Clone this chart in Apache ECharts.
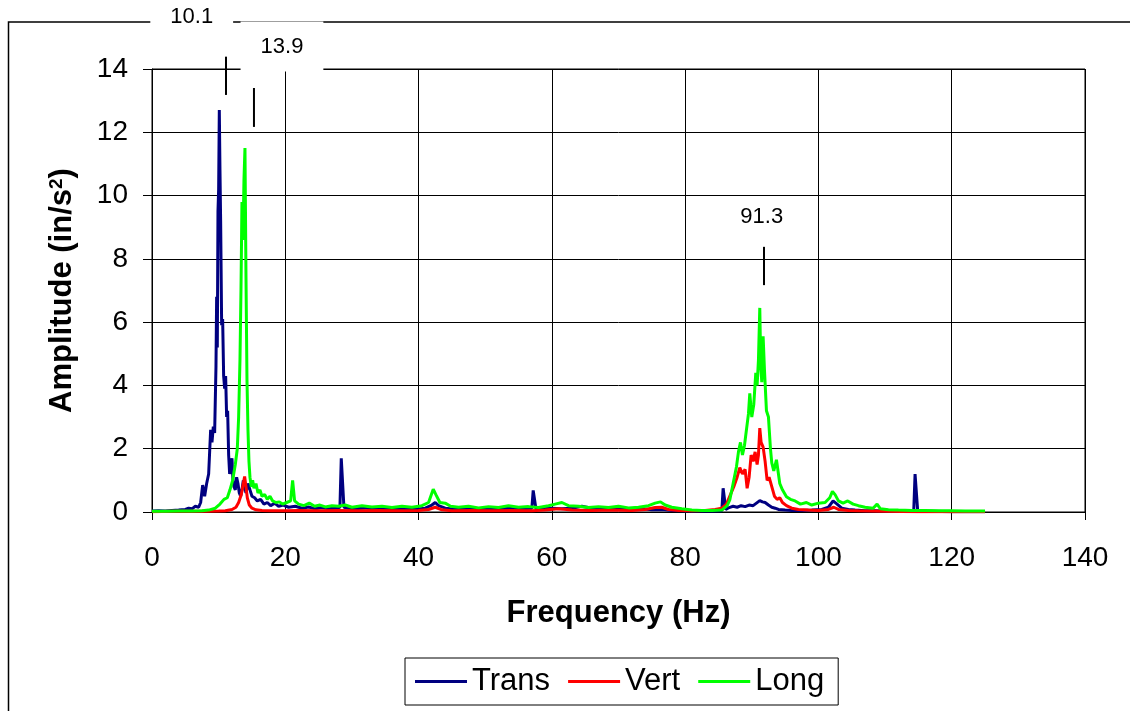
<!DOCTYPE html>
<html>
<head>
<meta charset="utf-8">
<title>Amplitude spectrum</title>
<script src="https://cdn.jsdelivr.net/npm/echarts@6/dist/echarts.min.js"></script>
<style>
  html, body { margin: 0; padding: 0; background: #fff; }
  #chart { width: 1130px; height: 711px; }
</style>
</head>
<body>
<div id="chart"></div>
<script>
// spectrum values: [frequency Hz, amplitude in/s^2]
const trans = [
  [0, 0.03], [1, 0.04], [2, 0.03], [3, 0.05], [4, 0.06], [5, 0.08], [5.5, 0.12], [6, 0.1], [6.5, 0.18], [7, 0.15],
  [7.3, 0.3], [7.6, 0.85], [7.9, 0.5], [8.2, 0.9], [8.5, 1.2], [8.8, 2.6], [9.0, 2.2], [9.2, 2.7], [9.4, 2.5],
  [9.6, 4.6], [9.7, 6.8], [9.8, 5.2], [9.9, 9.5], [10.0, 10.2], [10.1, 12.7], [10.2, 10.8], [10.3, 9.2],
  [10.45, 5.9], [10.6, 6.1], [10.75, 4.3], [10.9, 3.9], [11.05, 4.3], [11.2, 3.0], [11.35, 3.2], [11.5, 1.8],
  [11.65, 1.2], [11.8, 1.4], [12.0, 1.7], [12.15, 1.0], [12.3, 0.8], [12.5, 0.7], [12.7, 1.1], [12.9, 0.9],
  [13.1, 0.6], [13.3, 0.5], [13.5, 0.7], [13.7, 1.0], [13.9, 0.8], [14.1, 0.6], [14.4, 0.9], [14.7, 0.7],
  [15.0, 0.5], [15.4, 0.45], [15.8, 0.35], [16.3, 0.4], [16.8, 0.25], [17.3, 0.3], [17.8, 0.2], [18.4, 0.28],
  [19.0, 0.18], [19.7, 0.22], [20.5, 0.15], [21.5, 0.18], [22.5, 0.12], [23.5, 0.16], [24.5, 0.1], [25.5, 0.14],
  [26.5, 0.1], [27.5, 0.12], [28.2, 0.15], [28.4, 1.7], [28.6, 1.65], [28.8, 0.15], [29.5, 0.12], [30.5, 0.1],
  [32, 0.13], [33.5, 0.09], [35, 0.11], [36.5, 0.08], [38, 0.1], [39.5, 0.09], [41, 0.12], [42, 0.22],
  [42.5, 0.3], [43, 0.2], [44, 0.12], [45.5, 0.09], [47, 0.1], [48.5, 0.08], [50, 0.11], [51.5, 0.1],
  [53, 0.12], [54.5, 0.1], [56, 0.11], [57.0, 0.12], [57.2, 0.68], [57.4, 0.65], [57.6, 0.12], [58.5, 0.1],
  [60, 0.12], [61.5, 0.1], [63, 0.12], [64.5, 0.18], [66, 0.12], [67.5, 0.1], [69, 0.14], [70.5, 0.1],
  [72, 0.08], [73.5, 0.1], [75, 0.07], [76.5, 0.08], [78, 0.05], [79.5, 0.04], [81, 0.03], [82.5, 0.03],
  [84, 0.03], [85.5, 0.04], [85.7, 0.75], [85.9, 0.72], [86.1, 0.08], [86.6, 0.14], [87.2, 0.18], [87.8, 0.15],
  [88.4, 0.2], [89, 0.17], [89.6, 0.22], [90.2, 0.2], [90.7, 0.28], [91.2, 0.36], [91.6, 0.32], [92, 0.3],
  [92.5, 0.22], [93, 0.15], [93.5, 0.12], [94, 0.08], [95, 0.06], [96, 0.05], [97.5, 0.05], [99, 0.06],
  [100.5, 0.08], [101.5, 0.15], [102.2, 0.35], [102.8, 0.25], [103.5, 0.12], [104.5, 0.08], [105.5, 0.06],
  [107, 0.04], [108.5, 0.04], [110, 0.03], [112, 0.02], [114.3, 0.02], [114.5, 1.2], [114.7, 1.15],
  [114.9, 0.02], [117, 0.02], [120, 0.01], [125, 0.01]
];

const vert = [
  [0, 0.01], [3, 0.02], [6, 0.02], [8, 0.02], [10, 0.03], [11, 0.04], [12, 0.08], [12.6, 0.15], [13.0, 0.3],
  [13.4, 0.55], [13.7, 0.9], [13.9, 1.12], [14.1, 0.8], [14.3, 0.45], [14.6, 0.22], [15.0, 0.12], [15.6, 0.07],
  [16.5, 0.05], [18, 0.04], [20, 0.04], [22, 0.05], [25, 0.04], [28, 0.05], [31, 0.04], [34, 0.05], [37, 0.04],
  [40, 0.05], [41.5, 0.08], [42.5, 0.15], [43.5, 0.07], [45, 0.04], [48, 0.05], [51, 0.04], [54, 0.05],
  [57, 0.04], [59, 0.06], [61, 0.1], [63, 0.06], [66, 0.05], [69, 0.06], [72, 0.05], [74, 0.08], [75.5, 0.14],
  [76.5, 0.15], [77.5, 0.08], [79, 0.05], [81, 0.04], [83, 0.05], [84.5, 0.08], [85.5, 0.12], [86.2, 0.25],
  [86.8, 0.55], [87.3, 0.8], [87.8, 1.1], [88.2, 1.4], [88.6, 1.2], [89.0, 1.35], [89.3, 0.75], [89.6, 1.1],
  [89.9, 1.8], [90.2, 1.6], [90.5, 1.9], [90.8, 1.5], [91.0, 1.8], [91.2, 2.65], [91.4, 2.2], [91.7, 2.05],
  [92.0, 1.6], [92.3, 1.0], [92.6, 1.1], [93.0, 0.8], [93.4, 0.5], [93.8, 0.4], [94.2, 0.45], [94.6, 0.3],
  [95.2, 0.2], [96, 0.12], [97, 0.08], [98.5, 0.06], [100, 0.05], [101.5, 0.08], [102.3, 0.15], [103, 0.08],
  [104.5, 0.05], [106, 0.04], [108, 0.03], [110, 0.02], [115, 0.01], [120, 0.01], [125, 0.01]
];

const long = [
  [0, 0.02], [2, 0.02], [4, 0.03], [6, 0.03], [7.5, 0.04], [8.5, 0.06], [9.5, 0.12], [10.2, 0.25], [10.8, 0.4],
  [11.3, 0.45], [11.7, 0.7], [12.1, 1.0], [12.5, 1.5], [12.8, 2.0], [13.0, 3.0], [13.2, 4.8], [13.35, 7.0],
  [13.5, 9.8], [13.65, 8.6], [13.8, 10.5], [13.95, 11.5], [14.1, 7.5], [14.25, 4.2], [14.4, 2.6], [14.55, 1.6],
  [14.7, 1.1], [14.9, 0.8], [15.1, 1.0], [15.3, 0.75], [15.6, 0.9], [15.9, 0.6], [16.2, 0.7], [16.5, 0.5],
  [16.9, 0.55], [17.3, 0.4], [17.7, 0.5], [18.1, 0.35], [18.6, 0.3], [19.1, 0.32], [19.6, 0.25], [20.2, 0.3],
  [20.8, 0.35], [21.1, 1.0], [21.4, 0.35], [22, 0.25], [22.8, 0.2], [23.6, 0.28], [24.4, 0.18], [25.2, 0.22],
  [26, 0.16], [27, 0.2], [28, 0.18], [29, 0.22], [30, 0.15], [31.5, 0.2], [33, 0.16], [34.5, 0.18], [36, 0.14],
  [37.5, 0.18], [39, 0.15], [40.5, 0.2], [41.5, 0.3], [42.2, 0.72], [42.6, 0.55], [43.2, 0.3], [44, 0.28],
  [44.8, 0.18], [46, 0.15], [47.5, 0.18], [49, 0.13], [50.5, 0.17], [52, 0.14], [53.5, 0.2], [55, 0.15],
  [56.5, 0.17], [58, 0.14], [59.5, 0.2], [60.5, 0.25], [61.5, 0.3], [62.5, 0.2], [64, 0.18], [65.5, 0.14],
  [67, 0.17], [68.5, 0.14], [70, 0.18], [71.5, 0.13], [73, 0.15], [74.5, 0.2], [75.5, 0.28], [76.3, 0.32],
  [77, 0.22], [78, 0.15], [79.5, 0.1], [81, 0.06], [82.5, 0.05], [84, 0.05], [85.5, 0.06], [86.3, 0.2],
  [86.7, 0.38], [87.2, 0.9], [87.7, 1.43], [88.0, 1.9], [88.3, 2.2], [88.6, 1.8], [88.9, 2.1], [89.2, 2.06],
  [89.5, 3.1], [89.7, 3.75], [90.0, 3.0], [90.3, 3.4], [90.6, 4.4], [90.8, 4.0], [91.0, 4.8], [91.2, 6.45],
  [91.35, 4.6], [91.5, 4.1], [91.7, 5.55], [91.9, 4.5], [92.2, 3.2], [92.5, 3.0], [92.8, 2.0], [93.0, 1.55],
  [93.3, 1.3], [93.7, 1.65], [94.0, 1.2], [94.2, 0.9], [94.6, 0.7], [95.2, 0.48], [95.8, 0.4], [96.5, 0.35],
  [97.3, 0.25], [98.2, 0.3], [99, 0.22], [100, 0.28], [101, 0.3], [101.7, 0.45], [102.1, 0.65], [102.5, 0.55],
  [103, 0.35], [103.7, 0.28], [104.4, 0.35], [105.2, 0.25], [106, 0.2], [107, 0.15], [108.2, 0.12],
  [108.8, 0.25], [109.3, 0.1], [110.5, 0.07], [112, 0.06], [114, 0.05], [116, 0.05], [118, 0.04], [120, 0.04],
  [122, 0.03], [125, 0.03]
];

// peak call-outs, in data units
const peakLabels = ['10.1', '13.9', '91.3'];
const peakLabelAt = [[5.96, 15.63], [19.5, 14.71], [91.5, 9.33]];
const peakTickAt = [[11.1, 14.39, 13.18], [15.3, 13.4, 12.17], [91.83, 8.38, 7.17]];
const peakLabelMask = [true, true, false];

const FONT = '"Liberation Sans", Arial, sans-serif';

const chart = echarts.init(document.getElementById('chart'));

chart.setOption({
  animation: false,
  backgroundColor: '#fff',
  textStyle: { fontFamily: FONT, color: '#000' },
  graphic: [{
    type: 'rect',
    z: 0,
    shape: { x: 8.5, y: 22, width: 1200, height: 800 },
    style: { fill: null, stroke: '#000', lineWidth: 1.5 }
  }],
  grid: {
    left: 152, right: 45, top: 69, bottom: 199,
    show: true, borderColor: '#000', borderWidth: 1, backgroundColor: '#fff'
  },
  legend: {
    data: ['Trans', 'Vert', 'Long'],
    left: 405, top: 658,
    icon: 'rect',
    itemWidth: 52, itemHeight: 3, itemGap: 18,
    padding: [8, 14, 8, 10],
    borderColor: '#000', borderWidth: 1,
    textStyle: { fontSize: 31, fontFamily: FONT, color: '#000' }
  },
  xAxis: {
    type: 'value', min: 0, max: 140, interval: 20,
    name: 'Frequency (Hz)', nameLocation: 'middle', nameGap: 86,
    nameTextStyle: { fontSize: 31, fontWeight: 'bold', fontFamily: FONT, color: '#000' },
    axisLine: { lineStyle: { color: '#000', width: 1 } },
    axisTick: { show: true, length: 8, lineStyle: { color: '#000' } },
    axisLabel: { fontSize: 28, margin: 32, color: '#000', fontFamily: FONT },
    splitLine: { show: true, lineStyle: { color: '#000', width: 1 } }
  },
  yAxis: {
    type: 'value', min: 0, max: 14, interval: 2,
    name: 'Amplitude (in/s{sup|2})', nameLocation: 'middle', nameGap: 74, nameRotate: 90,
    nameTextStyle: {
      fontSize: 31, fontWeight: 'bold', fontFamily: FONT, color: '#000',
      rich: { sup: { fontSize: 19, fontWeight: 'bold', fontFamily: FONT, color: '#000', verticalAlign: 'top', padding: [0, 0, 12, 0] } }
    },
    axisLine: { show: true, lineStyle: { color: '#000', width: 1 } },
    axisTick: { show: true, length: 9, lineStyle: { color: '#000' } },
    axisLabel: { fontSize: 28, margin: 24, color: '#000', fontFamily: FONT },
    splitLine: { show: true, lineStyle: { color: '#000', width: 1 } }
  },
  series: [
    { name: 'Trans', type: 'line', data: trans, symbol: 'none', color: '#000080', lineStyle: { width: 3 }, z: 2 },
    { name: 'Vert', type: 'line', data: vert, symbol: 'none', color: '#ff0000', lineStyle: { width: 3 }, z: 3 },
    { name: 'Long', type: 'line', data: long, symbol: 'none', color: '#00ff00', lineStyle: { width: 3 }, z: 4 },
    {
      type: 'custom',
      z: 10,
      silent: true,
      clip: false,
      data: peakLabels.map((t, i) => [peakLabelAt[i][0], peakLabelAt[i][1]]),
      renderItem: function (params, api) {
        const i = params.dataIndex;
        const p = api.coord(peakLabelAt[i]);
        const t = peakTickAt[i];
        const a = api.coord([t[0], t[1]]);
        const b = api.coord([t[0], t[2]]);
        return {
          type: 'group',
          children: [
            {
              type: 'text',
              style: {
                text: peakLabels[i], x: p[0], y: p[1],
                fontSize: 22, fontFamily: FONT, fill: '#000',
                align: 'center', verticalAlign: 'middle',
                backgroundColor: peakLabelMask[i] ? '#fff' : null,
                padding: [10, 20, 18, 20]
              }
            },
            {
              type: 'line',
              shape: { x1: a[0], y1: a[1], x2: b[0], y2: b[1] },
              style: { stroke: '#000', lineWidth: 2 }
            }
          ]
        };
      }
    }
  ]
});
</script>
</body>
</html>
